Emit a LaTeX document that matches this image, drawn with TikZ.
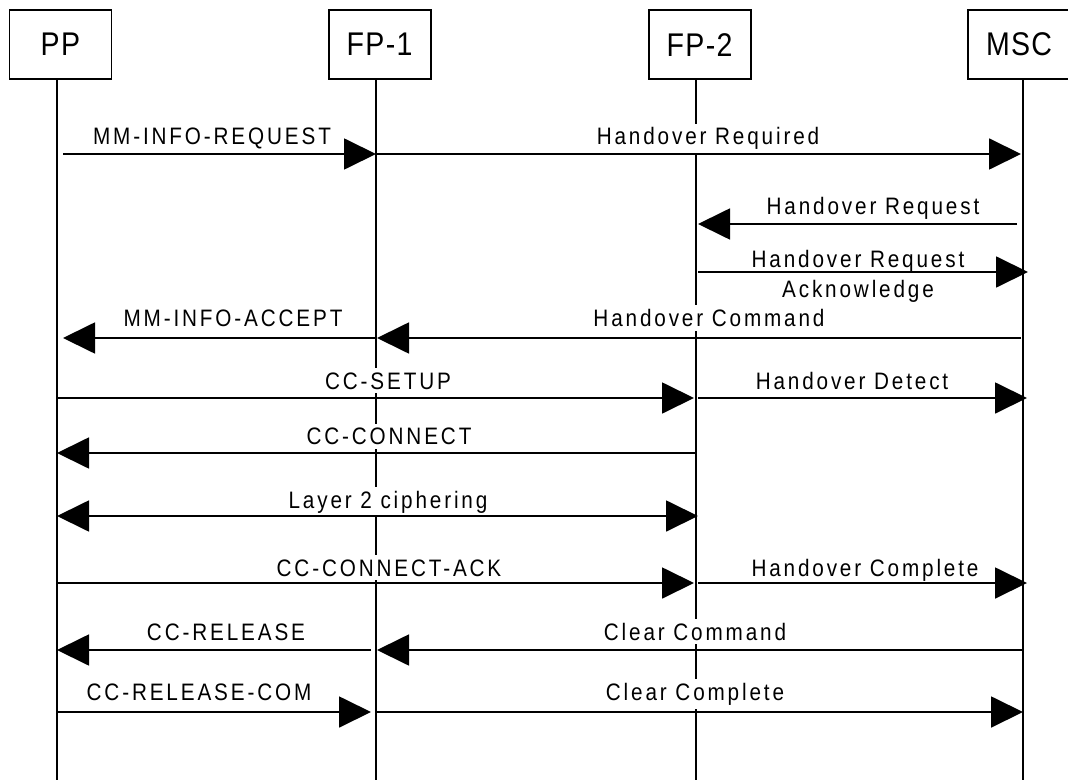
\documentclass[tikz,border=0pt]{standalone}
\usepackage{fontspec}
\setmainfont{Liberation Sans}
\newfontfamily\msgfont[FakeStretch=0.87,LetterSpace=12]{Liberation Sans}
\newfontfamily\entfont[FakeStretch=0.87,LetterSpace=4]{Liberation Sans}
\usetikzlibrary{arrows.meta,positioning}

\tikzset{
  entity/.style={draw, line width=0.9pt, minimum width=51pt, minimum height=34.5pt,
    inner sep=0pt, font=\entfont\fontsize{16.4}{18}\selectfont},
  lifeline/.style={line width=0.9pt},
  msg/.style={line width=0.9pt, -{Triangle[length=16pt,width=15.5pt]}},
  bimsg/.style={line width=0.9pt, {Triangle[length=16pt,width=15.5pt]}-{Triangle[length=16pt,width=15.5pt]}},
  lbl/.style={fill=white, inner sep=2pt, anchor=base, font=\msgfont\fontsize{11.9}{15}\selectfont},
}

\begin{document}
\begin{tikzpicture}[x=0.5pt,y=-0.5pt]
  \clip (0,0) rectangle (1068,780);
  % lifelines
  \coordinate (ppl) at (57,80);
  \coordinate (fpal) at (376,80);
  \coordinate (fpbl) at (696,80);
  \coordinate (mscl) at (1023,80);
  \coordinate (bottom) at (0,780);
  \node[entity, above=0pt of ppl, xshift=1.7pt] (pp) {PP};
  \node[entity, above=0pt of fpal, xshift=1.8pt] (fpa) {FP-1};
  \node[entity, above=0pt of fpbl, xshift=1.8pt] (fpb) {FP-2};
  \node[entity, above=0pt of mscl, xshift=-2pt] (msc) {MSC};
  \foreach \l in {ppl,fpal,fpbl,mscl}
    \draw[lifeline] (\l) -- (\l |- bottom);

  % message rows
  \coordinate (r1) at (0,154);
  \coordinate (r2) at (0,224);
  \coordinate (r3) at (0,272);
  \coordinate (r4) at (0,338);
  \coordinate (r5) at (0,398);
  \coordinate (r6) at (0,453);
  \coordinate (r7) at (0,516);
  \coordinate (r8) at (0,583);
  \coordinate (r9) at (0,650);
  \coordinate (r10) at (0,712);

  % labels
  \node[lbl] (t1) at (212,145) {MM-INFO-REQUEST};
  \node[lbl] (t2) at (708,145) {Handover Required};
  \node[lbl] (t3) at (873,215) {Handover Request};
  \node[lbl, fill=none, align=center, anchor=north, inner sep=0pt] (t4) at (858,250)
    {Handover Request\\Acknowledge};
  \node[lbl] (t5) at (233,326.5) {MM-INFO-ACCEPT};
  \node[lbl] (t6) at (709,326.5) {Handover Command};
  \node[lbl] (t7) at (388,389) {CC-SETUP};
  \node[lbl] (t8) at (852,389) {Handover Detect};
  \node[lbl] (t9) at (389,444.5) {CC-CONNECT};
  \node[lbl] (t10) at (388,508) {Layer 2 ciphering};
  \node[lbl] (t11) at (389,576) {CC-CONNECT-ACK};
  \node[lbl] (t12) at (865,576) {Handover Complete};
  \node[lbl] (t13) at (226,640) {CC-RELEASE};
  \node[lbl] (t14) at (695,640) {Clear Command};
  \node[lbl] (t15) at (199,700) {CC-RELEASE-COM};
  \node[lbl] (t16) at (695,700) {Clear Complete};

  % messages
  \draw[msg] ([xshift=3pt]ppl |- r1) -- (fpal |- r1);
  \draw[msg] (fpal |- r1) -- ([xshift=-1pt]mscl |- r1);
  \draw[msg] ([xshift=-3pt]mscl |- r2) -- ([xshift=1pt]fpbl |- r2);
  \draw[msg] ([xshift=1pt]fpbl |- r3) -- ([xshift=2.5pt]mscl |- r3);
  \draw[msg] (fpal |- r4) -- ([xshift=3pt]ppl |- r4);
  \draw[msg] ([xshift=-1pt]mscl |- r4) -- ([xshift=0.5pt]fpal |- r4);
  \draw[msg] (ppl |- r5) -- ([xshift=-1pt]fpbl |- r5);
  \draw[msg] ([xshift=1pt]fpbl |- r5) -- ([xshift=2pt]mscl |- r5);
  \draw[msg] ([xshift=-0.5pt]fpbl |- r6) -- (ppl |- r6);
  \draw[bimsg] (ppl |- r7) -- ([xshift=1pt]fpbl |- r7);
  \draw[msg] (ppl |- r8) -- ([xshift=-1pt]fpbl |- r8);
  \draw[msg] ([xshift=1pt]fpbl |- r8) -- ([xshift=2pt]mscl |- r8);
  \draw[msg] ([xshift=-2.5pt]fpal |- r9) -- (ppl |- r9);
  \draw[msg] (mscl |- r9) -- ([xshift=0.5pt]fpal |- r9);
  \draw[msg] (ppl |- r10) -- ([xshift=-2.5pt]fpal |- r10);
  \draw[msg] ([xshift=0.5pt]fpal |- r10) -- (mscl |- r10);
\end{tikzpicture}
\end{document}
